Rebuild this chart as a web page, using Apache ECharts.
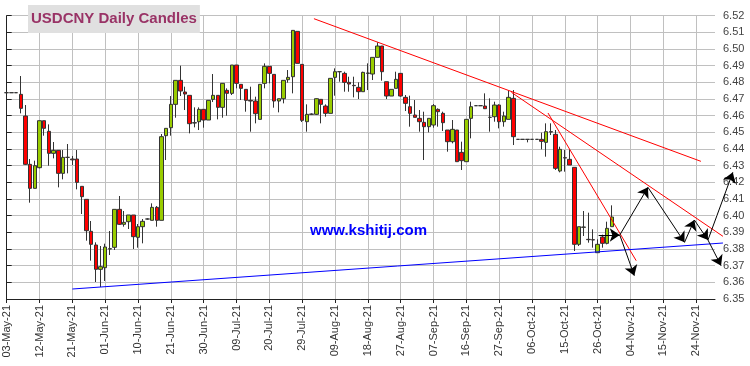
<!DOCTYPE html>
<html><head><meta charset="utf-8">
<script src="https://cdn.jsdelivr.net/npm/echarts@6/dist/echarts.min.js"></script>
<style>html,body{margin:0;padding:0;background:#fff}#c{width:750px;height:366px}</style>
</head><body><div id="c"></div>
<script>
// Tick labels (every 7th trading day)
const tickLabels = ['03-May-21','12-May-21','21-May-21','01-Jun-21','10-Jun-21','21-Jun-21','30-Jun-21','09-Jul-21','20-Jul-21','29-Jul-21','09-Aug-21','18-Aug-21','27-Aug-21','07-Sep-21','16-Sep-21','27-Sep-21','06-Oct-21','15-Oct-21','26-Oct-21','04-Nov-21','15-Nov-21','24-Nov-21'];
const totalSlots = 152; // weekdays 03-May-21 .. 30-Nov-21

const openV = [6.4738,6.4738,6.4738,6.4728,6.4598,6.4308,6.4164,6.4288,6.457,6.4506,
6.4374,6.4392,6.4254,6.435,6.434,6.434,6.4176,6.4098,6.3906,6.3824,
6.3678,6.3688,6.38,6.381,6.4038,6.3948,6.3964,6.4004,6.387,6.3934,
6.398,6.3972,6.405,6.3972,6.448,6.4528,6.4668,6.4812,6.4742,6.4722,
6.4556,6.4564,6.4638,6.4574,6.4698,6.4722,6.465,6.4752,6.4734,6.4904,
6.4788,6.4758,6.4692,6.4688,6.4578,6.4794,6.4896,6.4848,6.4688,6.4702,
6.4816,6.4834,6.5106,6.4908,6.4564,6.4608,6.4608,6.4698,6.4658,6.4614,
6.483,6.4864,6.4854,6.48,6.4782,6.477,6.4744,6.4854,6.485,6.495,
6.5018,6.4804,6.4718,6.4764,6.4854,6.471,6.4654,6.4604,6.4584,6.456,
6.4534,6.4544,6.4638,6.4614,6.4514,6.4444,6.4514,6.438,6.4324,6.4584,
6.466,6.466,6.4658,6.459,6.4594,6.4664,6.4564,6.4578,6.4704,6.4458,
6.4458,6.4458,6.4458,6.4458,6.4458,6.444,6.4504,6.4488,6.4268,6.4348,
6.4338,6.429,6.3828,6.393,6.3858,6.3856,6.3778,6.3872,6.3834,6.3934];
const closeV = [6.4738,6.4738,6.4738,6.4644,6.4308,6.4164,6.43,6.457,6.4524,6.4374,
6.4392,6.4254,6.435,6.435,6.4335,6.42,6.4114,6.391,6.3828,6.3678,
6.3694,6.3812,6.3802,6.4038,6.3948,6.396,6.4004,6.3874,6.3934,6.3966,
6.398,6.405,6.3972,6.4474,6.4524,6.4668,6.4812,6.4748,6.473,6.4552,
6.4558,6.4638,6.4574,6.4692,6.4722,6.465,6.4794,6.4734,6.4904,6.4794,
6.4764,6.4692,6.4688,6.4612,6.4788,6.4896,6.4854,6.4688,6.4702,6.4812,
6.483,6.5112,6.4914,6.4572,6.4608,6.461,6.4702,6.4668,6.4614,6.4824,
6.4864,6.4864,6.48,6.479,6.478,6.4744,6.486,6.4856,6.495,6.5018,
6.4864,6.4718,6.4758,6.4818,6.4718,6.4674,6.4614,6.459,6.4564,6.4534,
6.4584,6.466,6.4624,6.4558,6.4444,6.4518,6.4324,6.433,6.4578,6.4654,
6.466,6.466,6.4642,6.459,6.4664,6.4564,6.4598,6.471,6.4474,6.4458,
6.4458,6.4458,6.4458,6.4458,6.4446,6.4504,6.4502,6.4284,6.4398,6.4346,
6.4304,6.3828,6.3934,6.3932,6.3856,6.3854,6.3828,6.3834,6.3924,6.3992];
const lowV = [6.4735,6.4738,6.4738,6.4614,6.4304,6.4078,6.4164,6.4284,6.448,6.43,
6.4344,6.417,6.4218,6.4254,6.4304,6.4158,6.401,6.385,6.373,6.3602,
6.3572,6.3608,6.3764,6.3794,6.3944,6.3934,6.392,6.38,6.3808,6.3834,
6.3976,6.3972,6.3934,6.3972,6.4334,6.448,6.4588,6.4718,6.4634,6.4494,
6.453,6.4514,6.4528,6.4574,6.4682,6.4578,6.4588,6.46,6.4724,6.4764,
6.4694,6.4624,6.4504,6.4554,6.4578,6.4764,6.4794,6.4648,6.462,6.4674,
6.4798,6.4734,6.4914,6.4562,6.4504,6.4604,6.4604,6.4554,6.4594,6.4614,
6.472,6.4804,6.4744,6.4744,6.471,6.47,6.4744,6.4754,6.4814,6.495,
6.481,6.47,6.4718,6.4764,6.4714,6.4628,6.4534,6.459,6.4504,6.4334,
6.45,6.4528,6.4534,6.4508,6.4384,6.4434,6.4324,6.4274,6.4324,6.4464,
6.466,6.466,6.464,6.4504,6.4564,6.4524,6.4534,6.4578,6.4424,6.4458,
6.4458,6.444,6.4458,6.4458,6.4398,6.4354,6.4484,6.4274,6.426,6.4264,
6.4304,6.3788,6.3818,6.3878,6.3838,6.3808,6.3778,6.3808,6.3828,6.3934];
const highV = [6.4745,6.4738,6.4738,6.4838,6.4664,6.434,6.433,6.457,6.457,6.4548,
6.4442,6.4392,6.4394,6.443,6.4358,6.4394,6.4176,6.4098,6.3968,6.384,
6.3818,6.3832,6.3908,6.4038,6.4118,6.4028,6.4004,6.4004,6.395,6.398,
6.3984,6.4074,6.4058,6.449,6.4524,6.4718,6.4812,6.49,6.4774,6.4722,
6.465,6.465,6.4638,6.4692,6.485,6.4722,6.4794,6.4764,6.4904,6.4904,
6.4788,6.4758,6.4774,6.4714,6.4788,6.4914,6.4896,6.4848,6.4702,6.4812,
6.4874,6.5112,6.5106,6.4908,6.4668,6.4614,6.4704,6.4698,6.4668,6.4824,
6.4884,6.4864,6.4864,6.4834,6.4834,6.48,6.4864,6.4914,6.495,6.504,
6.5018,6.4804,6.4758,6.4864,6.4854,6.4724,6.472,6.4694,6.4634,6.4624,
6.4584,6.467,6.4644,6.4624,6.4514,6.4574,6.4514,6.4444,6.4578,6.4684,
6.466,6.466,6.4734,6.4704,6.4684,6.4668,6.4624,6.475,6.4754,6.4458,
6.4458,6.4458,6.4458,6.4458,6.4498,6.4554,6.4554,6.4514,6.4414,6.4394,
6.4398,6.429,6.3934,6.4028,6.4018,6.3918,6.3858,6.3886,6.3964,6.4062];

// Annotations in (trading-day index, price)
const redLines = [
  [[65.5, 6.5182], [148.0, 6.4326]],
  [[107.6, 6.474], [152.7, 6.3876]],
  [[115.4, 6.4616], [134.2, 6.373]]
];
const blueLine = [[14.0, 6.356], [152.7, 6.3836]];
const arrowSegs = [
  [[126.2, 6.3884], [130.7, 6.3884]],
  [[130.7, 6.3884], [133.8, 6.364]],
  [[130.7, 6.3884], [136.7, 6.417]],
  [[136.7, 6.417], [144.5, 6.384]],
  [[144.5, 6.384], [146.6, 6.3974]],
  [[146.6, 6.3974], [149.5, 6.3854]],
  [[149.5, 6.3854], [154.8, 6.426]],
  [[149.5, 6.3854], [152.3, 6.37]]
];

// weekday calendar for category axis
const categories = [];
{
  const d = new Date(Date.UTC(2021, 4, 3));
  while (categories.length < totalSlots) {
    const wd = d.getUTCDay();
    if (wd !== 0 && wd !== 6) categories.push(d.toISOString().slice(0, 10));
    d.setUTCDate(d.getUTCDate() + 1);
  }
}
const candleData = openV.map((o, i) => [o, closeV[i], lowV[i], highV[i]]);

const chart = echarts.init(document.getElementById('c'));
const L = 6.7, R = 35, T = 15.7, B = 67;
chart.setOption({
  animation: false,
  backgroundColor: '#fff',
  title: {
    text: 'USDCNY Daily Candles', left: 28, top: 5,
    backgroundColor: '#e0e0e0', padding: [6, 3, 6, 3],
    textStyle: { fontFamily: 'Arial', fontSize: 15, fontWeight: 'bold', color: '#993366', lineHeight: 16 }
  },
  grid: { left: L, right: R, top: T, bottom: B },
  xAxis: [{
    type: 'category', data: categories, boundaryGap: false,
    axisLine: { lineStyle: { color: '#222', width: 1 } },
    axisTick: { interval: 6, length: 4, lineStyle: { color: '#222' } },
    axisLabel: {
      interval: 6, rotate: 90, margin: 6, fontFamily: 'Arial', fontSize: 11, color: '#333',
      formatter: (v, idx) => tickLabels[Math.round(idx / 7)] || ''
    },
    splitLine: { show: true, interval: 6, lineStyle: { color: '#c0c0c0', width: 1 } }
  }, {
    type: 'value', min: 0, max: totalSlots - 1, show: false
  }],
  yAxis: {
    type: 'value', position: 'right', min: 6.35, max: 6.52, interval: 0.01, scale: true,
    axisLine: { show: true, lineStyle: { color: '#222' } },
    axisTick: { show: true, length: 5, lineStyle: { color: '#222' } },
    axisLabel: { margin: 8, fontFamily: 'Arial', fontSize: 11, color: '#444', formatter: v => v.toFixed(2) },
    splitLine: { show: true, lineStyle: { color: '#c0c0c0', width: 1 } }
  },
  series: [{
    type: 'candlestick', data: candleData, barWidth: 4,
    itemStyle: { color: '#99cc00', color0: '#ff0000', borderColor: '#333', borderColor0: '#333', borderWidth: 1 }
  }, {
    type: 'lines', coordinateSystem: 'cartesian2d', xAxisIndex: 1, yAxisIndex: 0, clip: false, z: 5,
    data: redLines.map(c => ({ coords: c })),
    lineStyle: { color: '#ff0000', width: 1, opacity: 1 }
  }, {
    type: 'lines', coordinateSystem: 'cartesian2d', xAxisIndex: 1, yAxisIndex: 0, clip: false, z: 5,
    data: [{ coords: blueLine }],
    lineStyle: { color: '#0000ff', width: 1, opacity: 1 }
  }, {
    type: 'lines', coordinateSystem: 'cartesian2d', xAxisIndex: 1, yAxisIndex: 0, clip: false, z: 6,
    symbol: ['none', 'arrow'], symbolSize: 10,
    data: arrowSegs.map(c => ({ coords: c })),
    lineStyle: { color: '#000', width: 1, opacity: 1 }
  }],
  graphic: [{
    type: 'text', left: 310, top: 223, z: 10,
    style: { text: 'www.kshitij.com', fill: '#0000ff', font: 'bold 15px Arial' }
  }]
});
</script></body></html>
